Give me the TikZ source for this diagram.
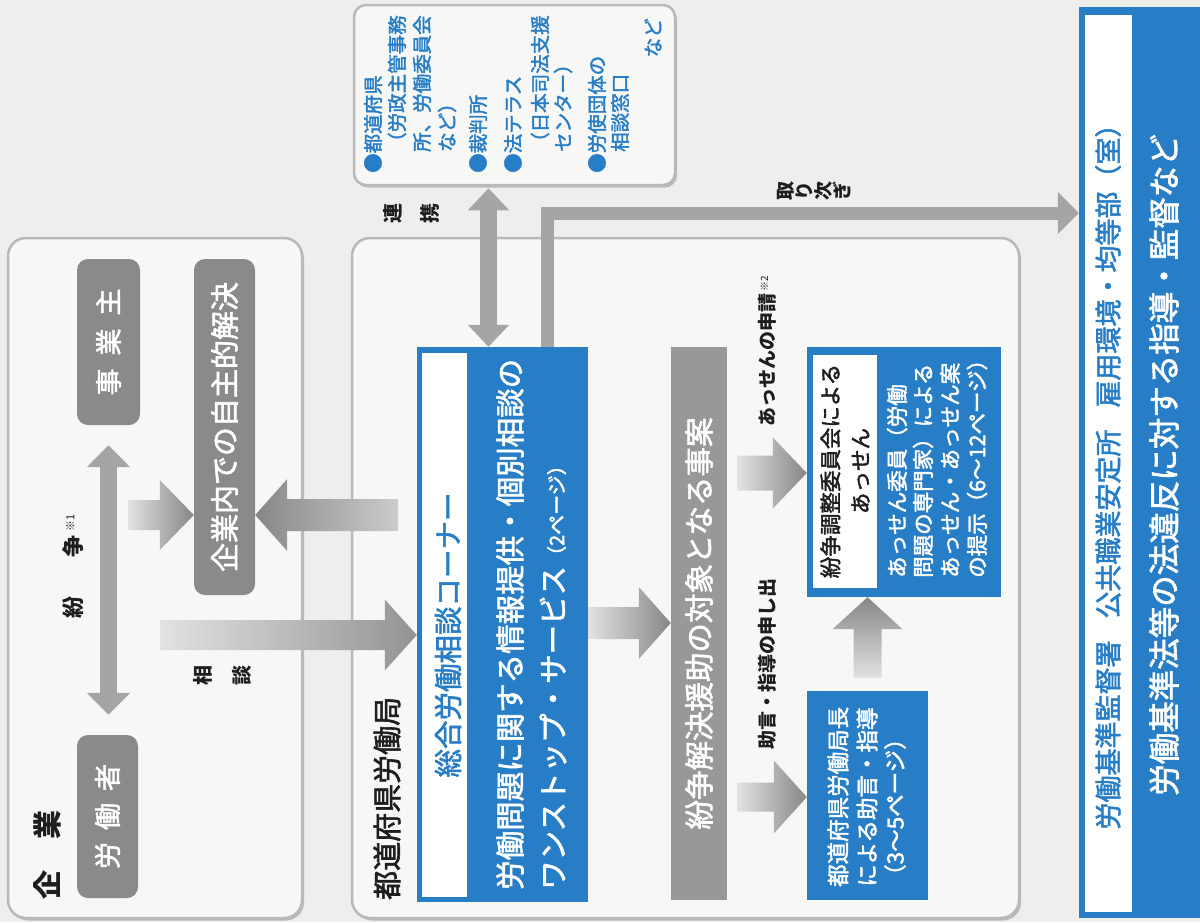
\documentclass[tikz,border=0pt]{standalone}
\usepackage{fontspec}
\setmainfont{Noto Sans CJK JP}
\newfontfamily\medfont{Noto Sans CJK JP}[FakeBold=2]
\usetikzlibrary{arrows.meta,calc,shadows}
\definecolor{bblue}{RGB}{40,126,198}
\definecolor{dgray}{RGB}{138,138,138}
\definecolor{mgray}{RGB}{152,152,152}
\definecolor{agray}{RGB}{165,165,165}
\definecolor{paper}{RGB}{238,238,236}
\definecolor{boxfill}{RGB}{247,247,245}
\definecolor{boxline}{RGB}{185,185,185}
\definecolor{ink}{RGB}{30,30,30}
\definecolor{adark}{RGB}{135,135,135}
\definecolor{alight}{RGB}{226,226,226}
\newcommand\fsz[1]{\fontsize{#1pt}{#1pt}\selectfont}
% horizontal block arrow: #1 opts, #2 tail, #3 tip, #4 shaft half, #5 head half, #6 head length (negative = pointing left)
\newcommand\harr[6]{\shade[#1] let \p1=(#2), \p2=(#3) in
  (\x1,{\y2+#4pt}) -- ({\x2-(#6pt)},{\y2+#4pt}) -- ({\x2-(#6pt)},{\y2+#5pt}) -- (\x2,\y2)
  -- ({\x2-(#6pt)},{\y2-#5pt}) -- ({\x2-(#6pt)},{\y2-#4pt}) -- (\x1,{\y2-#4pt}) -- cycle;}
% vertical block arrow pointing up
\newcommand\varr[6]{\shade[#1] let \p1=(#2), \p2=(#3) in
  ({\x2+#4pt},\y1) -- ({\x2+#4pt},{\y2-(#6pt)}) -- ({\x2+#5pt},{\y2-(#6pt)}) -- (\x2,\y2)
  -- ({\x2-#5pt},{\y2-(#6pt)}) -- ({\x2-#4pt},{\y2-(#6pt)}) -- ({\x2-#4pt},\y1) -- cycle;}
\begin{document}
\begin{tikzpicture}[x=1pt,y=-1pt,
  outer/.style={draw=boxline,line width=2.5pt,fill=boxfill,rounded corners=18pt,
    drop shadow={shadow xshift=2pt,shadow yshift=-2.5pt,fill=black,opacity=0.22}},
  dbox/.style={fill=dgray,rounded corners=11pt,inner sep=0pt},
  gbox/.style={fill=mgray,inner sep=0pt},
  bbox/.style={fill=bblue,inner sep=0pt},
  wbox/.style={fill=white,inner sep=0pt},
  vt/.style={rotate=90,inner sep=0pt},
  lbl/.style={rotate=90,inner sep=0pt,text=ink},
  solidarr/.style={draw=agray,line join=miter}
]
\fill[paper] (0,0) rectangle (1200,922);
\useasboundingbox (0,0) rectangle (1200,922);

% helper coordinates for levels
\coordinate (y515) at (0,515);
\coordinate (y623) at (0,623);
\coordinate (y635) at (0,635);
\coordinate (y797) at (0,797);
\coordinate (y473) at (0,473);
\coordinate (y213) at (0,213);
\coordinate (x488) at (488.5,0);
\coordinate (x547) at (547,0);

% ---------- outer boxes ----------
\node[outer,minimum width=294pt,minimum height=680pt] (kigyo) at (155,578) {};
\node[outer,minimum width=667pt,minimum height=680pt] (kyoku) at (685.5,578) {};
\node[outer,rounded corners=12pt,minimum width=321pt,minimum height=180pt] (renraku) at (514.5,95) {};

% ---------- 企業 ----------
\node[lbl,font=\fsz{29}\bfseries] (kigyolbl) at (47,855) {企\hspace{31pt}業};
\node[dbox,minimum width=63pt,minimum height=166pt] (jigyo) at (108.5,342) {};
\node[vt,text=white,font=\medfont\fsz{27}] (jigyot) at (jigyo.center) {事\hspace{13pt}業\hspace{13pt}主};
\node[dbox,minimum width=61pt,minimum height=163pt] (roudou) at (107.5,816.5) {};
\node[vt,text=white,font=\medfont\fsz{27}] (roudout) at (roudou.center) {労\hspace{12pt}働\hspace{12pt}者};
\node[dbox,minimum width=61pt,minimum height=336pt] (jishu) at (224.5,427) {};
\node[vt,text=white,font=\medfont\fsz{29}] (jishut) at (jishu.center) {企業内での自主的解決};
\node[lbl,font=\fsz{22}\bfseries,anchor=west] (funsolbl) at (73,619) {紛\hspace{39pt}争\hspace{4pt}\raisebox{7pt}[0pt][0pt]{\fsz{11}\mdseries ※1}};
\node[lbl,font=\fontsize{20pt}{39pt}\selectfont\bfseries,align=center] (soudanlbl) at (222.5,675) {相\\談};

% ---------- 都道府県労働局 ----------
\node[lbl,font=\medfont\fsz{29},anchor=west] (kyokulbl) at (387,900) {都道府県労働局};
\node[bbox,minimum width=171pt,minimum height=555pt] (soudan) at (502.5,624.5) {};
\node[wbox,minimum width=45pt,minimum height=544pt] (soudanw) at (444.5,625) {};
\node[vt,text=bblue,font=\medfont\fsz{28.5}] (soudant) at (448,635) {総合労働相談コーナー};
\node[vt,text=white,font=\medfont\fsz{29.5},anchor=west] (soudan1) at (510,890) {労働問題に関する情報提供・個別相談の};
\node[vt,text=white,font=\medfont\fsz{29.5},anchor=west] (soudan2) at (553,890) {ワンストップ・サービス{\fsz{20}（2ページ）}};

\node[gbox,minimum width=56pt,minimum height=553pt] (taisho) at (699,623.5) {};
\node[vt,text=white,font=\medfont\fsz{29.5}] (taishot) at (taisho.center) {紛争解決援助の対象となる事案};

\node[lbl,font=\fsz{19}\bfseries,anchor=west] (jogenlbl) at (767,750) {助言・指導の申し出};
\node[lbl,font=\fsz{19}\bfseries,anchor=west] (assenlbl) at (767,427) {あっせんの申請\hspace{2pt}\raisebox{6pt}[0pt][0pt]{\fsz{10}\mdseries ※2}};

\node[bbox,minimum width=121pt,minimum height=209pt] (jogen) at (867.5,795.5) {};
\node[vt,text=white,font=\medfont\fsz{22.5},anchor=west] (jogen1) at (838,887) {都道府県労働局長};
\node[vt,text=white,font=\medfont\fsz{22.5},anchor=west] (jogen2) at (867,887) {による助言・指導};
\node[vt,text=white,font=\medfont\fsz{22.5},anchor=west] (jogen3) at (895,887) {（3〜5ページ）};

\node[bbox,minimum width=194pt,minimum height=250pt] (assen) at (904,472) {};
\node[wbox,minimum width=64pt,minimum height=233pt] (assenw) at (845,471.5) {};
\node[vt,text=ink,font=\medfont\fontsize{21.5pt}{30pt}\selectfont,align=center] (assent) at (845,471) {紛争調整委員会による\\あっせん};
\node[vt,text=white,font=\medfont\fsz{21.5},anchor=west] (assen1) at (897,578) {あっせん委員（労働};
\node[vt,text=white,font=\medfont\fsz{21.5},anchor=west] (assen2) at (923,578) {問題の専門家）による};
\node[vt,text=white,font=\medfont\fsz{21.5},anchor=west] (assen3) at (950,578) {あっせん・あっせん案};
\node[vt,text=white,font=\medfont\fsz{21.5},anchor=west] (assen4) at (977,578) {の提示（6〜12ページ）};

% ---------- 連携先 ----------
\begin{scope}[every node/.style={rotate=90,inner sep=0pt,text=bblue,font=\medfont\fsz{19.5},anchor=west}]
\node (r1) at (373,173) {●都道府県};
\node (r2) at (397,152) {（労政主管事務};
\node (r3) at (422,152) {所、労働委員会};
\node (r4) at (447,152) {など）};
\node (r5) at (478,173) {●裁判所};
\node (r6) at (513,173) {●法テラス};
\node (r7) at (540,152) {（日本司法支援};
\node (r8) at (563,152) {センター）};
\node (r9) at (597,173) {●労使団体の};
\node (r10) at (620,152) {相談窓口};
\node[anchor=east] (r11) at (653,18) {など};
\end{scope}
\node[lbl,font=\fontsize{20pt}{37pt}\selectfont\bfseries,align=center] (renkeilbl) at (411.5,213) {連\\携};

% ---------- right box ----------
\node[bbox,minimum width=122pt,minimum height=911pt] (kantoku) at (1140,462.5) {};
\node[wbox,minimum width=47pt,minimum height=897pt] (kantokuw) at (1108.5,463.5) {};
\node[vt,text=bblue,font=\medfont\fsz{27}] (kantokut) at (1108,470) {労働基準監督署\hspace{22pt}公共職業安定所\hspace{22pt}雇用環境・均等部（室）};
\node[vt,text=white,font=\medfont\fsz{31.5}] (kantoku2) at (1164,465) {労働基準法等の法違反に対する指導・監督など};

% ---------- solid connectors ----------
\draw[solidarr,line width=17pt,{Triangle[width=42pt,length=22pt]}-{Triangle[width=42pt,length=22pt]},shorten <=20pt,shorten >=20pt]
  (jigyo.south) -- (jigyo.south |- roudou.north);
\draw[solidarr,line width=17pt,{Triangle[width=40pt,length=22pt]}-{Triangle[width=40pt,length=22pt]},shorten <=2pt]
  (renraku.south -| x488) -- (soudan.north -| x488);
\draw[solidarr,line width=13pt,-{Triangle[width=41pt,length=21pt]}]
  (soudan.north -| x547) |- (kantoku.west |- y213);
\node[lbl,font=\fontsize{19pt}{19pt}\selectfont\bfseries,align=center] (toritsugi) at (814,191) {取\\り\\次\\ぎ};

% ---------- shaded block arrows ----------
\coordinate (a1) at (128,515);
\coordinate (t1) at (jishu.west |- y515);
\harr{left color=alight,right color=adark}{a1}{t1}{15}{35}{34}
\coordinate (a2) at (398,515);
\coordinate (t2) at (jishu.east |- y515);
\harr{left color=adark,right color=alight!90!black}{a2}{t2}{16}{36}{-32}
\coordinate (a3) at (160,635);
\coordinate (t3) at (soudan.west |- y635);
\harr{left color=alight,right color=adark!90!white}{a3}{t3}{15}{35.5}{32}
\coordinate (a4) at (soudan.east |- y623);
\coordinate (t4) at (taisho.west |- y623);
\harr{left color=alight,right color=adark}{a4}{t4}{16}{36}{32}
\coordinate (a5) at (737,797);
\coordinate (t5) at (jogen.west |- y797);
\harr{left color=alight,right color=adark}{a5}{t5}{14.5}{36.5}{33}
\coordinate (a6) at (737,473);
\coordinate (t6) at (assen.west |- y473);
\harr{left color=alight,right color=adark}{a6}{t6}{17.5}{35.5}{34}
\coordinate (a7) at ($(jogen.north)+(0,-13)$);
\coordinate (t7) at (assen.south -| jogen.north);
\varr{top color=adark,bottom color=alight}{a7}{t7}{14}{35}{32}
\end{tikzpicture}
\end{document}
